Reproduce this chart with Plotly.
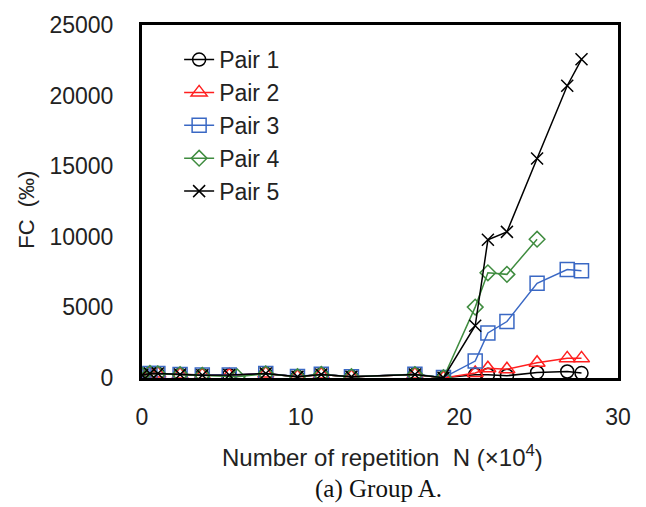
import plotly.graph_objects as go

# ---- data ----
x_common = [0, 0.5, 1.0, 2.4, 3.8, 5.5, 7.8, 9.8, 11.3, 13.2, 17.2, 19.0, 21.0, 21.8, 23.0, 24.9, 26.8, 27.7]
x_pair4 = [0, 0.5, 1.0, 2.4, 3.8, 6.0, 7.8, 9.8, 11.3, 13.2, 17.2, 19.0, 21.0, 21.8, 23.0, 24.9]

pair1 = [180, 300, 300, 230, 200, 200, 300, 90, 240, 80, 240, 20, 230, 230, 160, 390, 460, 350]
pair2 = [190, 310, 310, 240, 210, 190, 310, 80, 250, 90, 250, 0, 350, 690, 620, 1080, 1390, 1390]
pair3 = [170, 320, 320, 250, 220, 210, 320, 100, 260, 90, 260, 30, 1200, 3190, 4000, 6710, 7680, 7590]
pair4 = [200, 330, 300, 240, 190, 80, 300, 90, 250, 90, 240, 20, 5020, 7450, 7340, 9830]
pair5 = [200, 320, 320, 250, 200, 210, 320, 90, 250, 90, 250, 20, 3700, 9790, 10350, 15550, 20700, 22570]

x_ticks = [0, 10, 20, 30]
y_ticks = [0, 5000, 10000, 15000, 20000, 25000]

names = ["Pair 1", "Pair 2", "Pair 3", "Pair 4", "Pair 5"]
colors = ["#000000", "#FF1F1F", "#3A68C4", "#3F8C3F", "#000000"]
symbols = ["circle-open", "triangle-up-open", "square-open", "diamond-open", "x-thin-open"]
sizes = [13, 14, 14, 12, 12]

xs = [x_common, x_common, x_common, x_pair4, x_common]
ys = [pair1, pair2, pair3, pair4, pair5]

fig = go.Figure()
for nm, c, s, sz, xv, yv in zip(names, colors, symbols, sizes, xs, ys):
    fig.add_trace(go.Scatter(
        x=xv, y=yv, name=nm, mode="lines+markers",
        line=dict(color=c, width=1.5),
        marker=dict(symbol=s, size=sz, color=c, line=dict(color=c, width=1.5)),
    ))

font_main = "Liberation Sans, Arial, sans-serif"
W, H = 646, 507
L, R, T, B = 142, 28, 17, 129

fig.update_layout(
    width=W, height=H,
    margin=dict(l=L, r=R, t=T, b=B),
    paper_bgcolor="white", plot_bgcolor="white",
    font=dict(family=font_main, size=23, color="#222222"),
    showlegend=True,
    legend=dict(x=0.078, y=0.963, xanchor="left", yanchor="top",
                bgcolor="rgba(0,0,0,0)", font=dict(size=23, color="#222222"),
                tracegroupgap=0, itemwidth=30),
    xaxis=dict(range=[0, 30], tickvals=x_ticks, tickformat="d", showgrid=False, zeroline=False,
               showline=True, linecolor="black", linewidth=3, mirror=True,
               ticks="", ticklabelstandoff=16, tickfont=dict(size=23)),
    yaxis=dict(range=[0, 25000], tickvals=y_ticks, tickformat="d", showgrid=False,
               zeroline=False, showline=True, linecolor="black", linewidth=3, mirror=True,
               ticks="", ticklabelstandoff=21, tickfont=dict(size=23)),
)

pw = W - L - R
ph = H - T - B
def px(xp):
    return (xp - L) / pw
def py(yp):
    return (H - B - yp) / ph

fig.add_annotation(text="FC  (‰)", x=px(27), y=py(206), textangle=-90,
                   xref="paper", yref="paper", showarrow=False, xanchor="center", yanchor="middle",
                   font=dict(size=22, color="#222222", family=font_main))
fig.add_annotation(text="Number of repetition  N (×10<sup>4</sup>)", x=px(382), y=py(458),
                   xref="paper", yref="paper", showarrow=False, xanchor="center", yanchor="middle",
                   font=dict(size=24, color="#222222", family=font_main))
fig.add_annotation(text="(a) Group A.", x=px(378), y=py(492),
                   xref="paper", yref="paper", showarrow=False, xanchor="center", yanchor="middle",
                   font=dict(size=25, color="#111111", family="Liberation Serif, Times New Roman, serif"))

fig.write_html("out.html", config={"displayModeBar": False},
               post_script="document.body.style.margin='0';")
